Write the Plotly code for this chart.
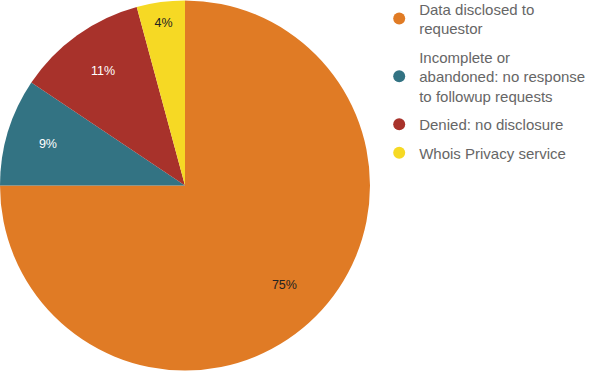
import plotly.graph_objects as go

labels = ["Data disclosed to requestor",
          "Incomplete or abandoned: no response to followup requests",
          "Denied: no disclosure",
          "Whois Privacy service"]
legend_text = ["Data disclosed to<br>requestor",
               "Incomplete or<br>abandoned: no response<br>to followup requests",
               "Denied: no disclosure",
               "Whois Privacy service"]
values = [75.0, 9.4, 11.4, 4.2]
colors = ["#E07B25", "#337383", "#A8322B", "#F6D924"]
text_colors = ["#222222", "#FFFFFF", "#FFFFFF", "#222222"]

domain = dict(x=[0, 370/600], y=[0, 1])
fig = go.Figure()
# filled slices
fig.add_trace(go.Pie(
    labels=labels, values=values, sort=False, direction="clockwise", rotation=0,
    marker=dict(colors=colors, line=dict(width=0)),
    textinfo="none", showlegend=False, hoverinfo="label+percent",
    domain=domain,
))
# transparent ring carrying the percentage labels further out
fig.add_trace(go.Pie(
    labels=labels, values=values, sort=False, direction="clockwise", rotation=0,
    hole=0.52,
    marker=dict(colors=["rgba(0,0,0,0)"] * len(values), line=dict(width=0)),
    texttemplate="%{percent:.0%}", textposition="inside",
    insidetextorientation="horizontal",
    textfont=dict(color=text_colors, size=12.5, family="Liberation Sans, Arial"),
    showlegend=False, hoverinfo="skip",
    domain=domain,
))
for i, (name, c) in enumerate(zip(legend_text, colors)):
    fig.add_trace(go.Scatter(x=[None], y=[None], mode="markers", name=name,
                             legendgroup=f"g{i}",
                             marker=dict(symbol="circle", size=11, color=c)))

fig.update_layout(
    width=600, height=371,
    margin=dict(l=0, r=0, t=0, b=0, autoexpand=False),
    paper_bgcolor="white", plot_bgcolor="white",
    xaxis=dict(visible=False), yaxis=dict(visible=False),
    legend=dict(x=0.632, y=1.02, xanchor="left", yanchor="top",
                font=dict(size=15, color="#666666", family="Liberation Sans, Arial"),
                itemsizing="constant", tracegroupgap=6,
                bgcolor="rgba(0,0,0,0)"),
    font=dict(family="Liberation Sans, Arial"),
)
fig.write_html("out.html", config={"displayModeBar": False},
               post_script="document.body.style.margin='0';")
